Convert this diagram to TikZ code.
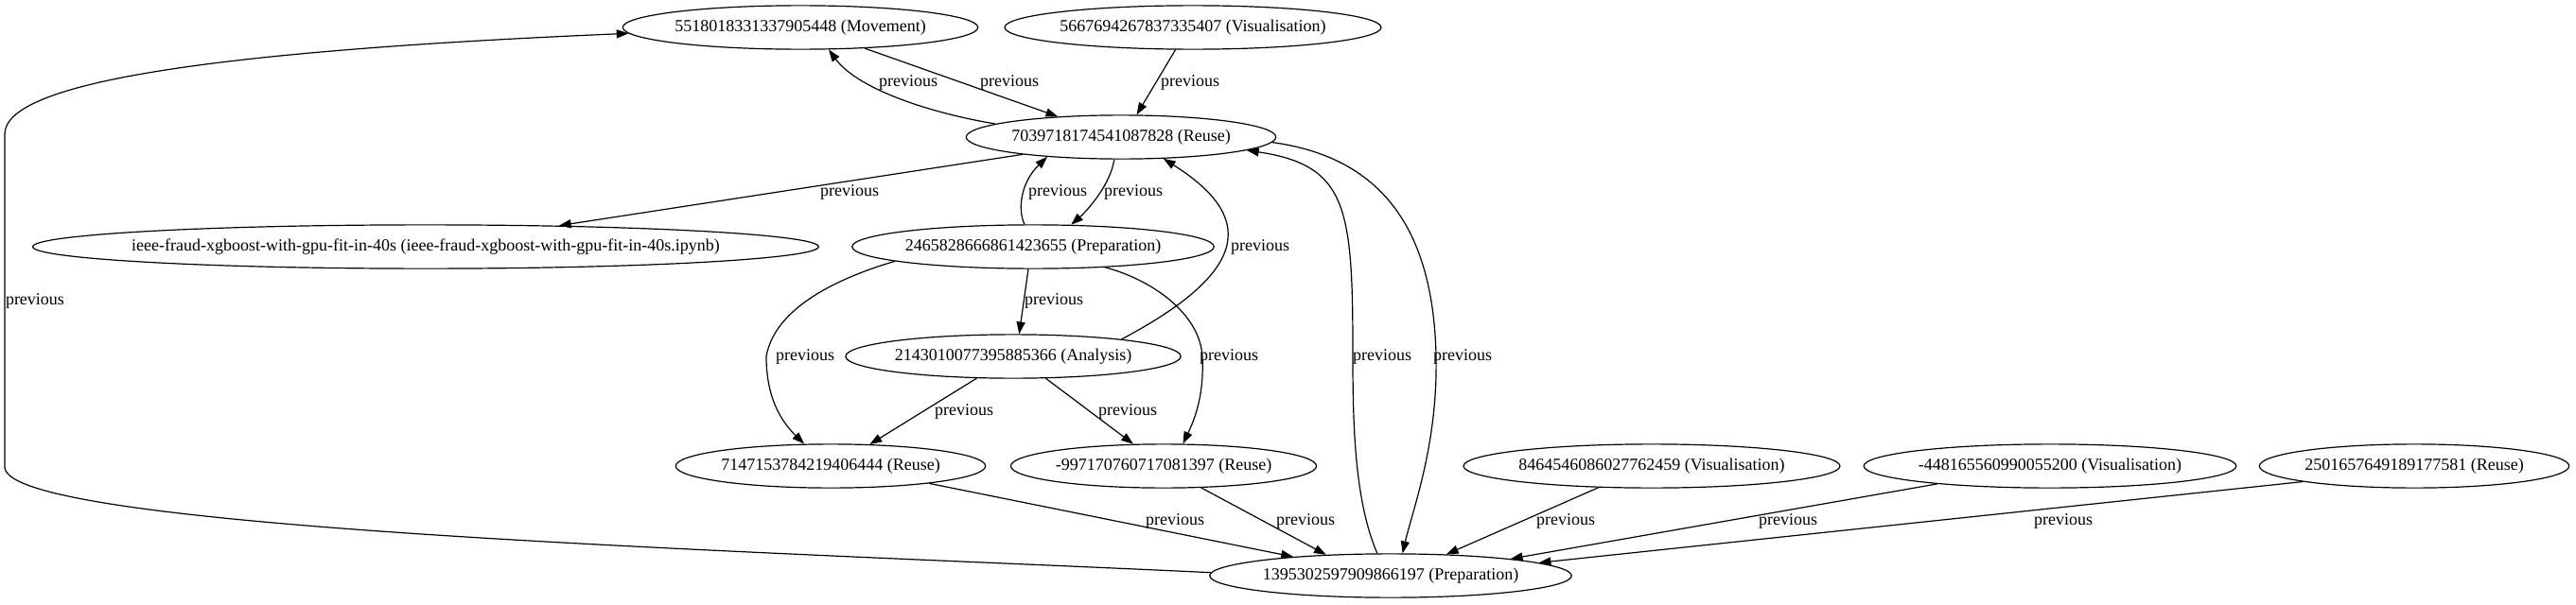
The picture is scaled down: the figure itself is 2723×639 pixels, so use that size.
\documentclass[tikz,border=0pt]{standalone}
\usepackage{fontspec}
\setmainfont{Liberation Serif}
\usetikzlibrary{arrows.meta,shapes.geometric}
\begin{document}
\begin{tikzpicture}[x=0.75pt,y=-0.75pt,
  ell/.style={draw, ellipse, inner xsep=0pt, inner ysep=0pt, minimum height=34.7pt, line width=0.9pt, font=\fontsize{13.5}{16}\selectfont},
  lbl/.style={inner sep=0pt, font=\fontsize{13.5}{16}\selectfont},
  edge/.style={draw, line width=0.9pt, -{Triangle[length=9.6pt,width=6.8pt]}}]
\useasboundingbox (0,0) rectangle (2723,639);
% nodes
\node[ell] (n1) at (846,29) {5518018331337905448 (Movement)};
\node[ell] (n2) at (1261,29) {5667694267837335407 (Visualisation)};
\node[ell] (n3) at (1185,145) {7039718174541087828 (Reuse)};
\node[ell, inner xsep=-30pt, minimum width=623pt] (n4) at (450,261) {ieee-fraud-xgboost-with-gpu-fit-in-40s (ieee-fraud-xgboost-with-gpu-fit-in-40s.ipynb)};
\node[ell] (n5) at (1092,261) {2465828666861423655 (Preparation)};
\node[ell] (n6) at (1071,377) {2143010077395885366 (Analysis)};
\node[ell] (n7) at (878,493) {7147153784219406444 (Reuse)};
\node[ell] (n8) at (1230,493) {-997170760717081397 (Reuse)};
\node[ell] (n9) at (1746,493) {8464546086027762459 (Visualisation)};
\node[ell] (n10) at (2167,493) {-448165560990055200 (Visualisation)};
\node[ell] (n11) at (2552,493) {2501657649189177581 (Reuse)};
\node[ell] (n12) at (1470,609) {1395302597909866197 (Preparation)};
% edges
\draw[edge] (n3.174) .. controls (975,118) and (905,92) .. (n1.-38);
\draw[edge] (n1.-18) -- (n3.162);
\draw[edge] (n2.-128) -- (n3.55);
\draw[edge] (n3.-170) -- (n4.9);
\draw[edge] (n5.111) .. controls (1075,220) and (1080,192) .. (n3.-165);
\draw[edge] (n3.-107) .. controls (1174,195) and (1150,222) .. (n5.30);
\draw[edge] (n6.9) .. controls (1325,285) and (1325,228) .. (n3.-27);
\draw[edge] (n5.-102) -- (n6.75);
\draw[edge] (n5.-174) .. controls (900,290) and (820,320) .. (810,377) .. controls (810,420) and (825,445) .. (n7.140);
\draw[edge] (n5.-16) .. controls (1215,295) and (1268,330) .. (1271,377) .. controls (1273,420) and (1262,445) .. (n8.49);
\draw[edge] (n6.-149) -- (n7.29);
\draw[edge] (n6.-34) -- (n8.144);
\draw[edge] (n7.-10) -- (n12.169);
\draw[edge] (n8.-30) -- (n12.162);
\draw[edge] (n12.121) .. controls (1432,530) and (1430,450) .. (1430,377) .. controls (1430,220) and (1425,175) .. (n3.-6);
\draw[edge] (n3.-2) .. controls (1450,165) and (1515,230) .. (1518,377) .. controls (1520,470) and (1493,540) .. (n12.62);
\draw[edge] (n9.-158) -- (n12.21);
\draw[edge] (n10.-171) -- (n12.8);
\draw[edge] (n11.-172) -- (n12.5);
\draw[edge] (n12.179) .. controls (800,583) and (5,560) .. (5,494) -- (5,142) .. controls (5,90) and (200,55) .. (n1.182);
% labels
\node[lbl] (l1) at (960,87) {previous};
\node[lbl] (l2) at (1067,87) {previous};
\node[lbl] (l3) at (1258,87) {previous};
\node[lbl] (l4) at (898,203) {previous};
\node[lbl] (l5) at (1118,203) {previous};
\node[lbl] (l6) at (1198,203) {previous};
\node[lbl] (l7) at (1332,261) {previous};
\node[lbl] (l8) at (1114,318) {previous};
\node[lbl] (l9) at (851,377) {previous};
\node[lbl] (l10) at (1299,377) {previous};
\node[lbl] (l11) at (1019,435) {previous};
\node[lbl] (l12) at (1192,435) {previous};
\node[lbl] (l13) at (1242,551) {previous};
\node[lbl] (l14) at (1380,551) {previous};
\node[lbl] (l15) at (1461,377) {previous};
\node[lbl] (l16) at (1546,377) {previous};
\node[lbl] (l17) at (1655,551) {previous};
\node[lbl] (l18) at (1890,551) {previous};
\node[lbl] (l19) at (2181,551) {previous};
\node[lbl] (l20) at (37,318) {previous};
\end{tikzpicture}
\end{document}
